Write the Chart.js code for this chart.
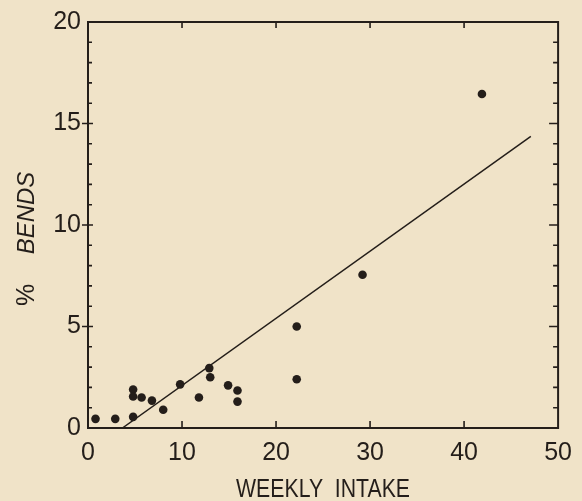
<!DOCTYPE html>
<html>
<head>
<meta charset="utf-8">
<script src="https://cdn.jsdelivr.net/npm/chart.js@4/dist/chart.umd.min.js"></script>
<style>
  html, body { margin: 0; padding: 0; background: #f0e3c8; }
  #wrap { width: 582px; height: 501px; }
</style>
</head>
<body>
<div id="wrap"><canvas id="c" width="582" height="501"></canvas></div>
<script>
// Weekly intake vs. percentage of bends (observations)
const intake = [0.8, 2.9, 4.8, 4.8, 4.8, 5.7, 6.8, 8.0, 9.8, 11.8, 12.9, 13.0, 14.9, 15.9, 15.9, 22.2, 22.2, 29.2, 41.9];
const bends  = [0.45, 0.45, 0.55, 1.9, 1.55, 1.5, 1.35, 0.9, 2.15, 1.5, 2.95, 2.5, 2.1, 1.85, 1.3, 5.0, 2.4, 7.55, 16.45];

// Fitted straight line (end points)
const fitIntake = [3.66, 47.1];
const fitBends  = [0, 14.37];

// Axis ticks
const xTicks = [0, 10, 20, 30, 40, 50];
const yTicks = [0, 5, 10, 15, 20];
const yMinorStep = 1;

const xTitle = 'WEEKLY  INTAKE';
const yTitleSymbol = '%';
const yTitleWord = 'BENDS';

const INK = '#241e1a';
const BG = '#f0e3c8';

const points = intake.map((x, i) => ({ x: x, y: bends[i] }));
const fitLine = fitIntake.map((x, i) => ({ x: x, y: fitBends[i] }));

const background = {
  id: 'background',
  beforeDraw(chart) {
    const ctx = chart.ctx;
    ctx.save();
    ctx.fillStyle = BG;
    ctx.fillRect(0, 0, chart.width, chart.height);
    ctx.restore();
  }
};

// Box frame, inward tick marks and the axis titles
const frame = {
  id: 'frame',
  afterDraw(chart) {
    const ctx = chart.ctx;
    const a = chart.chartArea;
    const xs = chart.scales.x, ys = chart.scales.y;
    ctx.save();
    ctx.strokeStyle = INK;
    ctx.lineWidth = 2;
    ctx.strokeRect(a.left, a.top, a.right - a.left, a.bottom - a.top);

    ctx.lineWidth = 1.6;
    ctx.beginPath();
    // x ticks: bottom and top, pointing inward
    xTicks.forEach(v => {
      if (v === xs.min || v === xs.max) return;
      const px = xs.getPixelForValue(v);
      ctx.moveTo(px, a.bottom); ctx.lineTo(px, a.bottom - 7);
      ctx.moveTo(px, a.top); ctx.lineTo(px, a.top + 6);
    });
    // y ticks: minor every unit, major at labelled values
    for (let v = ys.min + yMinorStep; v < ys.max; v += yMinorStep) {
      const py = ys.getPixelForValue(v);
      const major = yTicks.includes(v);
      if (major) {
        ctx.moveTo(a.left - 6, py); ctx.lineTo(a.left + 5, py);
        ctx.moveTo(a.right, py); ctx.lineTo(a.right - 9, py);
      } else {
        ctx.moveTo(a.left, py); ctx.lineTo(a.left + 4, py);
        ctx.moveTo(a.right, py); ctx.lineTo(a.right - 5, py);
      }
    }
    ctx.stroke();

    ctx.fillStyle = INK;
    // x title, slightly condensed lettering
    ctx.font = '25px "Liberation Sans", Arial, sans-serif';
    ctx.textAlign = 'center';
    ctx.textBaseline = 'middle';
    ctx.save();
    ctx.translate((a.left + a.right) / 2 + 0, 490);
    ctx.scale(0.85, 1);
    ctx.fillText(xTitle, 0, 0);
    ctx.restore();

    // y title: upright symbol then italic word, rotated
    ctx.save();
    ctx.translate(27, 0);
    ctx.rotate(-Math.PI / 2);
    ctx.font = '25px "Liberation Sans", Arial, sans-serif';
    ctx.fillText(yTitleSymbol, -295, 0);
    ctx.font = 'italic 24px "Liberation Sans", Arial, sans-serif';
    ctx.fillText(yTitleWord, -213, 0);
    ctx.restore();

    ctx.restore();
  }
};

new Chart(document.getElementById('c'), {
  type: 'scatter',
  data: {
    datasets: [
      {
        data: points,
        backgroundColor: INK,
        borderColor: INK,
        pointRadius: 4.3,
        pointBorderWidth: 0
      },
      {
        type: 'line',
        data: fitLine,
        borderColor: INK,
        borderWidth: 1.5,
        pointRadius: 0,
        fill: false,
        tension: 0
      }
    ]
  },
  options: {
    responsive: false,
    animation: false,
    devicePixelRatio: 1,
    layout: { autoPadding: false, padding: { left: 0, right: 12, top: 22, bottom: 0 } },
    plugins: { legend: { display: false }, tooltip: { enabled: false } },
    scales: {
      x: {
        type: 'linear',
        min: 0, max: 50,
        afterBuildTicks: s => { s.ticks = xTicks.map(v => ({ value: v })); },
        afterFit: s => { s.height = 73; },
        border: { display: false },
        grid: { display: false, drawTicks: false },
        ticks: {
          color: INK,
          padding: 10,
          font: { family: '"Liberation Sans", Arial, sans-serif', size: 25 }
        }
      },
      y: {
        type: 'linear',
        min: 0, max: 20,
        afterBuildTicks: s => { s.ticks = yTicks.map(v => ({ value: v })); },
        afterFit: s => { s.width = 88; },
        border: { display: false },
        grid: { display: false, drawTicks: false },
        ticks: {
          color: INK,
          padding: 7,
          font: { family: '"Liberation Sans", Arial, sans-serif', size: 25 }
        }
      }
    }
  },
  plugins: [background, frame]
});
</script>
</body>
</html>
